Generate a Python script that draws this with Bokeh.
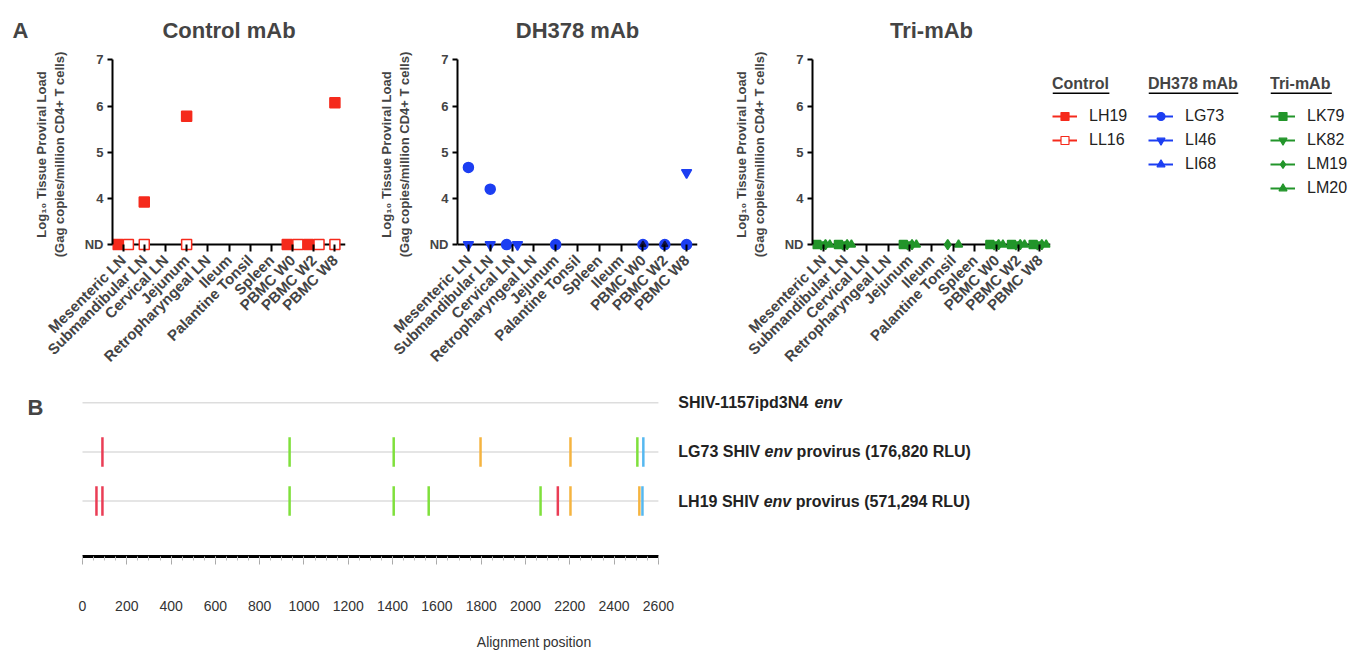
import math
from bokeh.plotting import figure
from bokeh.models import (ColumnDataSource, FactorRange, Range1d, Legend, LegendItem,
                          Label, BoxAnnotation, FixedTicker, SingleIntervalTicker, Span, Title)
from bokeh.layouts import row, column
from bokeh.embed import file_html
from bokeh.resources import INLINE
from bokeh.core.properties import value

FONT = "Liberation Sans"
ND = 3.0            # "not detected" is drawn at the axis floor
NA = float("nan")   # tissue not sampled

# ---------------- Panel A data ----------------
control_tissues = ["Mesenteric LN", "Submandibular LN", "Cervical LN", "Jejunum",
                   "Retropharyngeal LN", "Ileum", "Palantine Tonsil", "Spleen",
                   "PBMC W0", "PBMC W2", "PBMC W8"]
dh378_tissues = ["Mesenteric LN", "Submandibular LN", "Cervical LN", "Retropharyngeal LN",
                 "Jejunum", "Palantine Tonsil", "Spleen", "Ileum",
                 "PBMC W0", "PBMC W2", "PBMC W8"]
trimab_tissues = ["Mesenteric LN", "Submandibular LN", "Cervical LN", "Retropharyngeal LN",
                  "Jejunum", "Ileum", "Palantine Tonsil", "Spleen",
                  "PBMC W0", "PBMC W2", "PBMC W8"]

control_LH19 = [ND, 3.92, NA, 5.78, NA, NA, NA, NA, ND, ND, 6.07]
control_LL16 = [ND, ND, NA, ND, NA, NA, NA, NA, ND, ND, ND]

dh378_LG73 = [4.67, 4.20, ND, NA, ND, NA, NA, NA, ND, ND, ND]
dh378_LI46 = [ND, ND, ND, NA, NA, NA, NA, NA, NA, NA, 4.56]
dh378_LI68 = [NA, NA, NA, NA, NA, NA, NA, NA, ND, ND, NA]

tri_LK79 = [ND, ND, NA, NA, ND, NA, NA, NA, ND, ND, ND]
tri_LK82 = [ND, ND, NA, NA, ND, NA, NA, NA, ND, ND, ND]
tri_LM19 = [ND, ND, NA, NA, ND, NA, ND, NA, ND, ND, ND]
tri_LM20 = [ND, ND, NA, NA, ND, NA, ND, NA, ND, ND, ND]

y_ticks = [3, 4, 5, 6, 7]

RED = "#f52a1c"
BLUE = "#1c3ef2"
GREEN = "#22952a"

STY = {
    "LH19": dict(marker="square", size=10, fill=RED, line=RED, dodge=True),
    "LL16": dict(marker="square", size=10, fill="white", line=RED, dodge=True),
    "LG73": dict(marker="circle", size=10, fill=BLUE, line=BLUE, dodge=True),
    "LI46": dict(marker="inverted_triangle", size=10, fill=BLUE, line=BLUE, dodge=True),
    "LI68": dict(marker="triangle", size=6, fill="#101040", line="#101040", dodge=False),
    "LK79": dict(marker="square", size=8, fill=GREEN, line=GREEN, dodge=True),
    "LK82": dict(marker="inverted_triangle", size=9, fill=GREEN, line=GREEN, dodge=True),
    "LM19": dict(marker="diamond", size=10, fill=GREEN, line=GREEN, dodge=True),
    "LM20": dict(marker="triangle", size=8, fill=GREEN, line=GREEN, dodge=True),
}
LEG_COLOR = {"LH19": RED, "LL16": RED, "LG73": BLUE, "LI46": BLUE, "LI68": BLUE,
             "LK79": GREEN, "LK82": GREEN, "LM19": GREEN, "LM20": GREEN}

ROW_H = 380
TOP_B = 57      # frame top (shared by every figure in the row)
BOT_B = 129     # space below the frame
TITLE_STANDOFF = 29


def dodged_x(n_cat, series):
    """Spread the ND points of several animals that share a tissue."""
    xs = {name: [k + 0.5 for k in range(n_cat)] for name, _ in series}
    for k in range(n_cat):
        at_nd = [name for name, vals in series if STY[name]["dodge"] and vals[k] == ND]
        m = len(at_nd)
        if m > 1:
            width = min(0.6, 0.25 * m)
            step = width / (m - 1)
            for j, name in enumerate(at_nd):
                xs[name][k] += -width / 2 + j * step
    return xs


def blank_fig(w, h, top, bottom, title=None):
    f = figure(width=w, height=h, x_range=Range1d(0, w), y_range=Range1d(0, h - top - bottom),
               x_axis_type=None, y_axis_type=None, title=title,
               min_border_left=0, min_border_right=0, min_border_bottom=bottom,
               min_border_top=top, output_backend="svg", toolbar_location=None)
    f.outline_line_color = None
    f.grid.visible = False
    return f


def panel(title, cats, series, width, left, right):
    p = figure(x_range=FactorRange(*cats), y_range=Range1d(2.85, 7.05),
               width=width, height=ROW_H,
               min_border_left=left, min_border_right=right,
               min_border_top=TOP_B, min_border_bottom=BOT_B,
               output_backend="svg", toolbar_location=None, title=title)
    p.outline_line_color = None
    p.xgrid.visible = False
    p.ygrid.visible = False
    p.title.align = "center"
    p.title.text_font = FONT
    p.title.text_font_size = "22px"
    p.title.text_font_style = "bold"
    p.title.standoff = TITLE_STANDOFF

    ya = p.yaxis[0]
    ya.ticker = FixedTicker(ticks=y_ticks)
    ya.major_label_overrides = {3: "ND"}
    ya.bounds = (3, 7)
    ya.axis_line_width = 2
    ya.major_tick_line_width = 2
    ya.major_tick_out = 5
    ya.major_tick_in = 0
    ya.minor_tick_line_color = None
    ya.major_label_text_font = FONT
    ya.major_label_text_font_size = "13px"
    ya.major_label_text_font_style = "bold"
    ya.major_label_standoff = 4
    ya.axis_label = "Log\u2081\u2080 Tissue Proviral Load\n(Gag copies/million CD4+ T cells)"
    ya.axis_label_text_font = FONT
    ya.axis_label_text_font_size = "13px"
    ya.axis_label_text_font_style = "bold"
    ya.axis_label_standoff = 15

    # baseline (ND level) drawn as the x axis line
    p.add_layout(Span(location=ND, dimension="width", line_color="black",
                      line_width=2, level="underlay"))
    xa = p.xaxis[0]
    xa.axis_line_color = None
    xa.major_tick_line_width = 2
    xa.major_tick_out = 0
    xa.major_tick_in = 7
    xa.major_label_orientation = math.pi / 4
    xa.major_label_text_font = FONT
    xa.major_label_text_font_size = "15px"
    xa.major_label_text_font_style = "bold"
    xa.major_label_standoff = 6

    xs = dodged_x(len(cats), series)
    for name, vals in series:
        st = STY[name]
        keep = [k for k, v in enumerate(vals) if not math.isnan(v)]
        src = ColumnDataSource(dict(x=[xs[name][k] for k in keep],
                                    y=[vals[k] for k in keep]))
        p.scatter("x", "y", source=src, marker=st["marker"], size=st["size"],
                  fill_color=st["fill"], line_color=st["line"], line_width=1.5)
    return p


figA = blank_fig(30, ROW_H, TOP_B, BOT_B,
                 title=Title(text="A", align="left", offset=12, text_font=FONT,
                             text_font_size="22px", text_font_style="bold",
                             standoff=TITLE_STANDOFF))

p1 = panel("Control mAb", control_tissues,
           [("LH19", control_LH19), ("LL16", control_LL16)], 345, 75, 30)
p2 = panel("DH378 mAb", dh378_tissues,
           [("LG73", dh378_LG73), ("LI46", dh378_LI46), ("LI68", dh378_LI68)], 355, 82, 33)
p3 = panel("Tri-mAb", trimab_tissues,
           [("LK79", tri_LK79), ("LK82", tri_LK82), ("LM19", tri_LM19), ("LM20", tri_LM20)],
           322, 80, 2)

# ---------------- Legends ----------------
BOLD_W = {' ': 278, '(': 333, ')': 333, ',': 278, '-': 333, '.': 278, '/': 278, '+': 584,
          'A': 722, 'B': 722, 'C': 722, 'D': 722, 'E': 667, 'F': 611, 'G': 778, 'H': 722,
          'I': 278, 'J': 556, 'K': 722, 'L': 611, 'M': 833, 'N': 722, 'O': 778, 'P': 667,
          'Q': 778, 'R': 722, 'S': 667, 'T': 611, 'U': 722, 'V': 667, 'W': 944, 'X': 667,
          'Y': 667, 'Z': 611, 'a': 556, 'b': 611, 'c': 556, 'd': 611, 'e': 556, 'f': 333,
          'g': 611, 'h': 611, 'i': 278, 'j': 278, 'k': 556, 'l': 278, 'm': 889, 'n': 611,
          'o': 611, 'p': 611, 'q': 611, 'r': 389, 's': 556, 't': 333, 'u': 611, 'v': 556,
          'w': 778, 'x': 556, 'y': 556, 'z': 500}


def bold_width(s, size):
    return sum(BOLD_W.get(c, 556) for c in s) * size / 1000.0


legend_groups = [("Control", ["LH19", "LL16"], 96),
                 ("DH378 mAb", ["LG73", "LI46", "LI68"], 122),
                 ("Tri-mAb", ["LK79", "LK82", "LM19", "LM20"], 90)]

LEG_TOP = 75          # legend top, px from the top of the row
TITLE_H = 18          # rendered height of the 16px legend title
legend_figs = []
for title, names, w in legend_groups:
    lp = blank_fig(w, ROW_H, TOP_B, BOT_B)
    items = []
    for name in names:
        st = STY[name]
        c = LEG_COLOR[name]
        src = ColumnDataSource(dict(x=[NA], y=[NA]))
        lr = lp.line("x", "y", source=src, line_color=c, line_width=2)
        fill = "white" if st["fill"] == "white" else c
        sr = lp.scatter("x", "y", source=src, marker=st["marker"],
                        size=max(6, st["size"] - 3), fill_color=fill, line_color=c,
                        line_width=1.2)
        items.append(LegendItem(label=name, renderers=[lr, sr]))
    leg_h = TITLE_H + 13 + 24 * len(names) - 4
    vy = (ROW_H - BOT_B - LEG_TOP) - leg_h
    leg = Legend(items=items, title=title, location=(0, vy),
                 margin=0, padding=0, spacing=4, label_height=20, glyph_height=20,
                 glyph_width=25, label_standoff=12, title_standoff=13,
                 border_line_color=None, background_fill_alpha=0)
    leg.title_text_font = FONT
    leg.title_text_font_size = "16px"
    leg.title_text_font_style = "bold"
    leg.label_text_font = FONT
    leg.label_text_font_size = "16px"
    leg.label_text_color = "#222222"
    lp.add_layout(leg)
    tw = bold_width(title, 16)
    ul = (ROW_H - BOT_B) - (LEG_TOP + 17)
    lp.add_layout(BoxAnnotation(left=0, right=tw, top=ul, bottom=ul - 1.6,
                                fill_color="black", fill_alpha=1, line_color=None))
    legend_figs.append(lp)

# ---------------- Panel B data ----------------
alignment_length = 2600
row_names = ["SHIV-1157ipd3N4", "LG73 SHIV", "LH19 SHIV"]
row_gene = ["env", "env", "env"]
row_suffix = ["", "provirus (176,820 RLU)", "provirus (571,294 RLU)"]

LG73_pos = [90, 935, 1405, 1797, 2203, 2505, 2532]
LG73_nt = ["T", "A", "A", "G", "G", "A", "C"]
LH19_pos = [63, 90, 935, 1405, 1563, 2068, 2146, 2203, 2514, 2528]
LH19_nt = ["T", "T", "A", "A", "A", "A", "T", "G", "G", "C"]

NT_COLOR = {"A": "#7fe03c", "C": "#56b8f0", "G": "#f5b440", "T": "#ea3d55"}

B_H = 272
B_TOP = 7
B_FRAME = 177
B_BOT = B_H - B_TOP - B_FRAME

figB = blank_fig(45, B_H, B_TOP, B_BOT)
figB.add_layout(Label(x=27, y=B_FRAME - 8, text="B", text_font=FONT, text_baseline="top",
                      text_font_size="22px", text_font_style="bold"))

PX_PER_UNIT = 0.2215
B_W, B_L, B_R = 955, 30, 8
x_end = -31.6 + (B_W - B_L - B_R) / PX_PER_UNIT
pB = figure(x_range=Range1d(-31.6, x_end), y_range=Range1d(-3.126, 0.31),
            width=B_W, height=B_H, min_border_left=B_L, min_border_right=B_R,
            min_border_top=B_TOP, min_border_bottom=B_BOT, y_axis_type=None,
            output_backend="svg", toolbar_location=None)
pB.outline_line_color = None
pB.grid.visible = False
xb = pB.xaxis[0]
xb.bounds = (0, alignment_length)
xb.ticker = SingleIntervalTicker(interval=200, num_minor_ticks=4)
xb.axis_line_width = 3
xb.axis_line_color = "black"
xb.major_tick_line_color = "#aaaaaa"
xb.major_tick_out = 8
xb.major_tick_in = 0
xb.minor_tick_line_color = "#bbbbbb"
xb.minor_tick_out = 4
xb.minor_tick_in = 0
xb.major_label_text_font = FONT
xb.major_label_text_font_size = "14px"
xb.major_label_text_color = "#333333"
xb.major_label_standoff = 36
xb.axis_label = "Alignment position"
xb.axis_label_text_font = FONT
xb.axis_label_text_font_size = "14px"
xb.axis_label_text_font_style = "normal"
xb.axis_label_text_color = "#333333"
xb.axis_label_standoff = 20

row_y = [-i for i in range(len(row_names))]
pB.segment(x0=[0] * len(row_y), x1=[alignment_length] * len(row_y), y0=row_y, y1=row_y,
           line_color="#dddddd", line_width=1.5)

for i, (pos, nts) in enumerate([(LG73_pos, LG73_nt), (LH19_pos, LH19_nt)]):
    yc = row_y[i + 1]
    src = ColumnDataSource(dict(x=pos, y0=[yc - 0.3] * len(pos), y1=[yc + 0.3] * len(pos),
                                c=[NT_COLOR[n] for n in nts]))
    pB.segment(x0="x", x1="x", y0="y0", y1="y1", line_color="c", line_width=2.5, source=src)

LABEL_PX = 16
label_x = alignment_length + 90
bold_txt, bold_off, bold_y = [], [], []
ital_txt, ital_off, ital_y = [], [], []
for i, (nm, gene, suf) in enumerate(zip(row_names, row_gene, row_suffix)):
    bold_txt.append(nm); bold_off.append(0); bold_y.append(row_y[i])
    ital_txt.append(gene); ital_off.append(bold_width(nm + " ", LABEL_PX)); ital_y.append(row_y[i])
    if suf:
        bold_txt.append(suf); bold_off.append(bold_width(nm + " " + gene + " ", LABEL_PX))
        bold_y.append(row_y[i])
pB.text(x=[label_x] * len(bold_txt), y=bold_y, text=bold_txt, x_offset=bold_off,
        text_font=value(FONT), text_font_size=f"{LABEL_PX}px", text_font_style="bold",
        text_baseline="middle", text_align="left", text_color="#222222")
pB.text(x=[label_x] * len(ital_txt), y=ital_y, text=ital_txt, x_offset=ital_off,
        text_font=value(FONT), text_font_size=f"{LABEL_PX}px", text_font_style="bold italic",
        text_baseline="middle", text_align="left", text_color="#222222")

layout = column(row(figA, p1, p2, p3, *legend_figs), row(figB, pB))
open("out.html", "w").write(file_html(layout, INLINE))
